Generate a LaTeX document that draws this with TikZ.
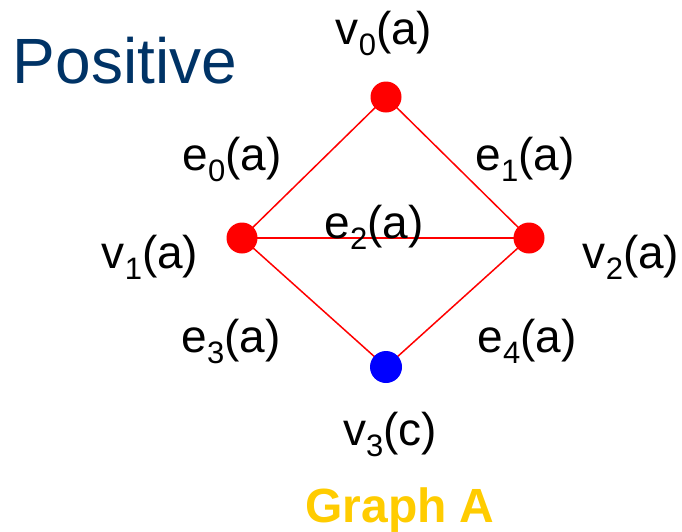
\documentclass[tikz,border=0pt]{standalone}
\usepackage{fontspec}
\setmainfont{Liberation Sans}
\definecolor{posblue}{HTML}{003366}
\definecolor{gold}{HTML}{FFCC00}
\newcommand{\sbs}[1]{\raisebox{-11pt}{\fontsize{31}{31}\selectfont #1}}
\begin{document}
\begin{tikzpicture}[x=1pt,y=-1pt,
  lbl/.style={anchor=base,inner sep=0pt,font=\fontsize{46}{50}\selectfont},
  reddot/.style={circle,fill=red,minimum size=31pt,inner sep=0pt},
  bluedot/.style={circle,fill=blue,minimum size=32pt,inner sep=0pt},
  edge/.style={draw=red,line width=1.5pt}]
\useasboundingbox (0,0) rectangle (682,531);
\node[anchor=base,inner sep=0pt,text=posblue,font=\fontsize{64}{70}\selectfont] (pos) at (125,83) {Positive};
\coordinate (c0) at (386,97);
\coordinate (c1) at (242,238);
\coordinate (c2) at (529,238);
\coordinate (c3) at (386,367);
\draw[edge] (c0) -- (c1);
\draw[edge] (c0) -- (c2);
\draw[edge] (c1) -- (c2);
\draw[edge] (c1) -- (c3);
\draw[edge] (c2) -- (c3);
\node[reddot] (n0) at (c0) {};
\node[reddot] (n1) at (c1) {};
\node[reddot] (n2) at (c2) {};
\node[bluedot] (n3) at (c3) {};
\node[lbl] (lv0) at (384,44) {v\sbs{0}(a)};
\node[lbl] (lv1) at (150,268) {v\sbs{1}(a)};
\node[lbl] (lv2) at (631,268) {v\sbs{2}(a)};
\node[lbl] (lv3) at (390,445) {v\sbs{3}(c)};
\node[lbl] (le0) at (232,170) {e\sbs{0}(a)};
\node[lbl] (le1) at (525,170) {e\sbs{1}(a)};
\node[lbl] (le2) at (374,238) {e\sbs{2}(a)};
\node[lbl] (le3) at (231,352) {e\sbs{3}(a)};
\node[lbl] (le4) at (527,352) {e\sbs{4}(a)};
\node[anchor=base,inner sep=0pt,text=gold,font=\fontsize{48}{52}\selectfont\bfseries] (title) at (400,522) {Graph A};
\end{tikzpicture}
\end{document}
